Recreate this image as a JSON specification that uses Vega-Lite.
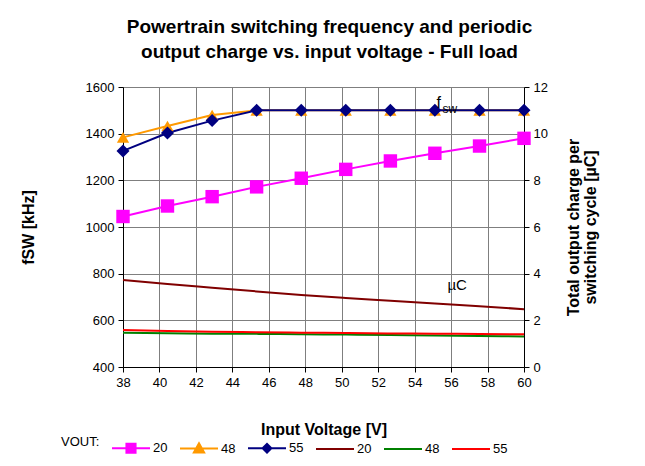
{
  "$schema": "https://vega.github.io/schema/vega-lite/v6.json",
  "width": 401,
  "height": 280,
  "autosize": "none",
  "padding": {"left": 123, "top": 87, "right": 121, "bottom": 99},
  "background": "white",
  "config": {
    "font": "Liberation Sans",
    "view": {"stroke": null},
    "axis": {
      "domainColor": "black",
      "tickColor": "black",
      "gridColor": "#7f7f7f",
      "gridOpacity": 1,
      "labelColor": "black",
      "titleColor": "black",
      "labelFontSize": 13,
      "titleFontSize": 16,
      "titleFontWeight": "bold",
      "tickSize": 5,
      "labelPadding": 4,
      "labelOverlap": false,
      "labelFlush": false
    },
    "legend": {
      "titleAnchor": "middle",
      "titleBaseline": "middle"
    }
  },
  "title": {
    "text": ["Powertrain switching frequency and periodic", "output charge vs. input voltage - Full load"],
    "fontSize": 19,
    "fontWeight": "bold",
    "lineHeight": 25,
    "offset": 19,
    "anchor": "middle",
    "dx": 6,
    "color": "black"
  },
  "datasets": {
    "series": [
      {"vin": 38.0, "series": "f20", "metric": "fsw", "value": 1045},
      {"vin": 40.44, "series": "f20", "metric": "fsw", "value": 1090},
      {"vin": 42.89, "series": "f20", "metric": "fsw", "value": 1130},
      {"vin": 45.33, "series": "f20", "metric": "fsw", "value": 1172},
      {"vin": 47.78, "series": "f20", "metric": "fsw", "value": 1209},
      {"vin": 50.22, "series": "f20", "metric": "fsw", "value": 1247},
      {"vin": 52.67, "series": "f20", "metric": "fsw", "value": 1283},
      {"vin": 55.11, "series": "f20", "metric": "fsw", "value": 1316},
      {"vin": 57.56, "series": "f20", "metric": "fsw", "value": 1347},
      {"vin": 60.0, "series": "f20", "metric": "fsw", "value": 1380},
      {"vin": 38.0, "series": "f48", "metric": "fsw", "value": 1384},
      {"vin": 40.44, "series": "f48", "metric": "fsw", "value": 1433},
      {"vin": 42.89, "series": "f48", "metric": "fsw", "value": 1480},
      {"vin": 45.33, "series": "f48", "metric": "fsw", "value": 1500},
      {"vin": 47.78, "series": "f48", "metric": "fsw", "value": 1500},
      {"vin": 50.22, "series": "f48", "metric": "fsw", "value": 1500},
      {"vin": 52.67, "series": "f48", "metric": "fsw", "value": 1500},
      {"vin": 55.11, "series": "f48", "metric": "fsw", "value": 1500},
      {"vin": 57.56, "series": "f48", "metric": "fsw", "value": 1500},
      {"vin": 60.0, "series": "f48", "metric": "fsw", "value": 1500},
      {"vin": 38.0, "series": "f55", "metric": "fsw", "value": 1326},
      {"vin": 40.44, "series": "f55", "metric": "fsw", "value": 1403},
      {"vin": 42.89, "series": "f55", "metric": "fsw", "value": 1456},
      {"vin": 45.33, "series": "f55", "metric": "fsw", "value": 1500},
      {"vin": 47.78, "series": "f55", "metric": "fsw", "value": 1500},
      {"vin": 50.22, "series": "f55", "metric": "fsw", "value": 1500},
      {"vin": 52.67, "series": "f55", "metric": "fsw", "value": 1500},
      {"vin": 55.11, "series": "f55", "metric": "fsw", "value": 1500},
      {"vin": 57.56, "series": "f55", "metric": "fsw", "value": 1500},
      {"vin": 60.0, "series": "f55", "metric": "fsw", "value": 1500},
      {"vin": 38.0, "series": "q20", "metric": "charge", "value": 3.73},
      {"vin": 40.44, "series": "q20", "metric": "charge", "value": 3.56},
      {"vin": 42.89, "series": "q20", "metric": "charge", "value": 3.40},
      {"vin": 45.33, "series": "q20", "metric": "charge", "value": 3.24},
      {"vin": 47.78, "series": "q20", "metric": "charge", "value": 3.09},
      {"vin": 50.22, "series": "q20", "metric": "charge", "value": 2.96},
      {"vin": 52.67, "series": "q20", "metric": "charge", "value": 2.84},
      {"vin": 55.11, "series": "q20", "metric": "charge", "value": 2.72},
      {"vin": 57.56, "series": "q20", "metric": "charge", "value": 2.60},
      {"vin": 60.0, "series": "q20", "metric": "charge", "value": 2.48},
      {"vin": 38.0, "series": "q48", "metric": "charge", "value": 1.47},
      {"vin": 40.44, "series": "q48", "metric": "charge", "value": 1.45},
      {"vin": 42.89, "series": "q48", "metric": "charge", "value": 1.43},
      {"vin": 45.33, "series": "q48", "metric": "charge", "value": 1.42},
      {"vin": 47.78, "series": "q48", "metric": "charge", "value": 1.40},
      {"vin": 50.22, "series": "q48", "metric": "charge", "value": 1.39},
      {"vin": 52.67, "series": "q48", "metric": "charge", "value": 1.37},
      {"vin": 55.11, "series": "q48", "metric": "charge", "value": 1.35},
      {"vin": 57.56, "series": "q48", "metric": "charge", "value": 1.33},
      {"vin": 60.0, "series": "q48", "metric": "charge", "value": 1.31},
      {"vin": 38.0, "series": "q55", "metric": "charge", "value": 1.59},
      {"vin": 40.44, "series": "q55", "metric": "charge", "value": 1.54},
      {"vin": 42.89, "series": "q55", "metric": "charge", "value": 1.51},
      {"vin": 45.33, "series": "q55", "metric": "charge", "value": 1.49},
      {"vin": 47.78, "series": "q55", "metric": "charge", "value": 1.47},
      {"vin": 50.22, "series": "q55", "metric": "charge", "value": 1.46},
      {"vin": 52.67, "series": "q55", "metric": "charge", "value": 1.44},
      {"vin": 55.11, "series": "q55", "metric": "charge", "value": 1.43},
      {"vin": 57.56, "series": "q55", "metric": "charge", "value": 1.41},
      {"vin": 60.0, "series": "q55", "metric": "charge", "value": 1.40}
    ],
    "labelsLeft": [
      {"vin": 55.2, "value": 1510, "text": "f", "part": "main"},
      {"vin": 55.2, "value": 1510, "text": "sw", "part": "sub"}
    ],
    "labelsRight": [
      {"vin": 55.8, "value": 3.3, "text": "µC"}
    ]
  },
  "encoding": {
    "x": {
      "field": "vin",
      "type": "quantitative",
      "scale": {"domain": [38, 60], "nice": false, "zero": false},
      "axis": {
        "values": [38, 40, 42, 44, 46, 48, 50, 52, 54, 56, 58, 60],
        "title": "Input Voltage [V]",
        "titleFontSize": 16,
        "titlePadding": 32,
        "grid": true,
        "gridColor": "#7f7f7f",
        "labelOverlap": false,
        "labelFlush": false
      }
    }
  },
  "layer": [
    {
      "encoding": {
        "y": {
          "field": "value",
          "type": "quantitative",
          "scale": {"domain": [400, 1600], "nice": false, "zero": false},
          "axis": {
            "orient": "left",
            "values": [400, 600, 800, 1000, 1200, 1400, 1600],
            "format": "d",
            "title": "fSW [kHz]",
            "titlePadding": 49,
            "grid": true,
            "gridColor": "#7f7f7f"
          }
        }
      },
      "layer": [
        {
          "data": {"name": "series"},
          "transform": [{"filter": "datum.metric == 'fsw'"}],
          "mark": {"type": "line", "strokeWidth": 2},
          "encoding": {
            "color": {"field": "series", "type": "nominal"}
          }
        },
        {
          "data": {"name": "series"},
          "transform": [{"filter": "datum.series == 'f20'"}],
          "mark": {"type": "point", "filled": true, "opacity": 1, "size": 180, "shape": "square", "color": "#ff00ff"},
          "encoding": {}
        },
        {
          "data": {"name": "series"},
          "transform": [{"filter": "datum.series == 'f48'"}],
          "mark": {"type": "point", "filled": true, "opacity": 1, "size": 150, "shape": "triangle-up", "color": "#ff9900"},
          "encoding": {}
        },
        {
          "data": {"name": "series"},
          "transform": [{"filter": "datum.series == 'f55'"}],
          "mark": {"type": "point", "filled": true, "opacity": 1, "size": 170, "shape": "diamond", "color": "#000080"},
          "encoding": {}
        },
        {
          "data": {"name": "series"},
          "mark": {"type": "point", "filled": true, "opacity": 0},
          "encoding": {
            "color": {
              "field": "series",
              "type": "nominal",
              "scale": {
                "domain": ["f20", "f48", "f55", "q20", "q48", "q55"],
                "range": ["#ff00ff", "#ff9900", "#000080", "#800000", "#008000", "#ff0000"]
              },
              "legend": {
                "title": "VOUT:",
                "titleOrient": "left",
                "titleAnchor": "middle",
                "titleBaseline": "middle",
                "titleFontSize": 13,
                "titleFontWeight": "normal",
                "titleColor": "black",
                "titlePadding": 11,
                "orient": "none",
                "legendX": -62,
                "legendY": 341,
                "direction": "horizontal",
                "labelExpr": "slice(datum.label, 1)",
                "labelFontSize": 13,
                "labelColor": "black",
                "labelOffset": 2,
                "columnPadding": 8,
                "symbolSize": 1444,
                "symbolStrokeWidth": 2,
                "symbolOpacity": 1
              }
            },
            "stroke": {
              "field": "series",
              "type": "nominal",
              "scale": {
                "domain": ["f20", "f48", "f55", "q20", "q48", "q55"],
                "range": ["#ff00ff", "#ff9900", "#000080", "#800000", "#008000", "#ff0000"]
              },
              "legend": {
                "title": "VOUT:",
                "titleOrient": "left",
                "titleAnchor": "middle",
                "titleBaseline": "middle",
                "symbolOpacity": 1
              }
            },
            "shape": {
              "field": "series",
              "type": "nominal",
              "scale": {
                "domain": ["f20", "f48", "f55", "q20", "q48", "q55"],
                "range": [
                  "M-1,0H1M-0.24,-0.24H0.24V0.24H-0.24Z",
                  "M-1,0H1M-0.27,0.21L0,-0.27L0.27,0.21Z",
                  "M-1,0H1M-0.23,0L0,-0.23L0.23,0L0,0.23Z",
                  "M-1,0H1",
                  "M-1,0H1",
                  "M-1,0H1"
                ]
              },
              "legend": {
                "title": "VOUT:",
                "titleOrient": "left",
                "titleAnchor": "middle",
                "titleBaseline": "middle",
                "symbolOpacity": 1
              }
            }
          }
        },
        {
          "data": {"name": "labelsLeft"},
          "transform": [{"filter": "datum.part == 'main'"}],
          "mark": {"type": "text", "align": "left", "baseline": "alphabetic", "color": "black", "fontSize": 16},
          "encoding": {
            "text": {"field": "text"}
          }
        },
        {
          "data": {"name": "labelsLeft"},
          "transform": [{"filter": "datum.part == 'sub'"}],
          "mark": {"type": "text", "align": "left", "baseline": "alphabetic", "color": "black", "fontSize": 12, "dx": 6, "dy": 5},
          "encoding": {
            "text": {"field": "text"}
          }
        }
      ]
    },
    {
      "encoding": {
        "y": {
          "field": "value",
          "type": "quantitative",
          "scale": {"domain": [0, 12], "nice": false},
          "axis": {
            "orient": "right",
            "values": [0, 2, 4, 6, 8, 10, 12],
            "title": ["Total output charge per", "switching cycle [µC]"],
            "titleAngle": 270,
            "titleLineHeight": 17,
            "titlePadding": 17,
            "grid": false
          }
        }
      },
      "layer": [
        {
          "data": {"name": "series"},
          "transform": [{"filter": "datum.metric == 'charge'"}],
          "mark": {"type": "line", "strokeWidth": 2, "interpolate": "monotone"},
          "encoding": {
            "color": {"field": "series", "type": "nominal"}
          }
        },
        {
          "data": {"name": "labelsRight"},
          "mark": {"type": "text", "align": "left", "baseline": "alphabetic", "color": "black", "fontSize": 15},
          "encoding": {
            "text": {"field": "text"}
          }
        }
      ]
    }
  ],
  "resolve": {"scale": {"y": "independent"}}
}
